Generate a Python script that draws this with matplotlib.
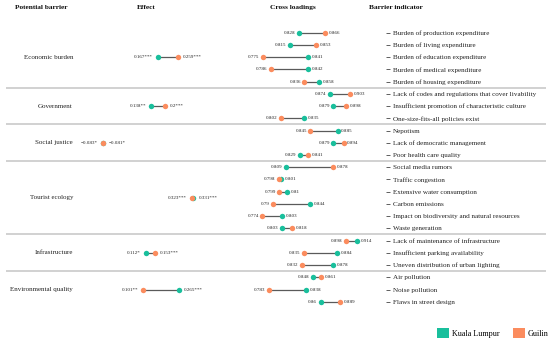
import matplotlib
matplotlib.use("Agg")
import matplotlib.pyplot as plt
from matplotlib.patches import Patch
import numpy as np

plt.rcParams['font.family'] = ['Liberation Serif', 'DejaVu Serif']

# ---------------- data ----------------
barriers = ["Economic burden", "Government", "Social justice",
            "Tourist ecology", "Infrastructure", "Environmental quality"]
group_sizes = [5, 3, 3, 6, 3, 3]
effect_kl = [0.167, 0.138, -0.083, 0.331, 0.112, 0.265]
effect_gl = [0.259, 0.2, -0.081, 0.323, 0.153, 0.101]
effect_kl_sig = ["***", "**", "*", "***", "*", "***"]
effect_gl_sig = ["***", "***", "*", "***", "***", "**"]

indicators = [
    "Burden of production expenditure",
    "Burden of living expenditure",
    "Burden of education expenditure",
    "Burden of medical expenditure",
    "Burden of housing expenditure",
    "Lack of codes and regulations that cover livability",
    "Insufficient promotion of characteristic culture",
    "One-size-fits-all policies exist",
    "Nepotism",
    "Lack of democratic management",
    "Poor health care quality",
    "Social media rumors",
    "Traffic congestion",
    "Extensive water consumption",
    "Carbon emissions",
    "Impact on biodiversity and natural resources",
    "Waste generation",
    "Lack of maintenance of infrastructure",
    "Insufficient parking availability",
    "Uneven distribution of urban lighting",
    "Air pollution",
    "Noise pollution",
    "Flaws in street design",
]
load_kl = [0.828, 0.815, 0.841, 0.842, 0.858,
           0.874, 0.879, 0.835,
           0.885, 0.879, 0.829,
           0.809, 0.801, 0.81, 0.844, 0.803, 0.803,
           0.914, 0.884, 0.878,
           0.848, 0.838, 0.86]
load_gl = [0.866, 0.853, 0.775, 0.786, 0.836,
           0.903, 0.898, 0.802,
           0.845, 0.894, 0.841,
           0.878, 0.798, 0.799, 0.79, 0.774, 0.818,
           0.898, 0.835, 0.832,
           0.861, 0.783, 0.889]

series_names = ["Kuala Lumpur", "Guilin"]
headers = ["Potential barrier", "Effect", "Cross loadings", "Barrier indicator"]

# ---------------- style ----------------
TEAL = "#19BF9C"
ORANGE = "#FB8C5E"
SEG = "#5a5a5a"
SEP = "#c9c9c9"
TXT = "#222222"

W, H = 550, 342
fig = plt.figure(figsize=(W / 100, H / 100), dpi=100)

# row geometry: row 0 at 32.7 px from top, 12.23 px per row
ROW0, STEP = 32.7, 12.23
YLIM = ((H - ROW0) / STEP, -ROW0 / STEP)

starts = np.concatenate([[0], np.cumsum(group_sizes)[:-1]])
mid_rows = starts + (np.array(group_sizes) - 1) / 2.0
sep_rows = np.cumsum(group_sizes)[:-1] - 0.5


def fmt(v, sig=""):
    return (f"{v:g}" + sig).replace("-", "\u2212")


def draw_pairs(ax, ys, a, b, la, lb, off, fs, ms):
    for y, va, vb, ta, tb in zip(ys, a, b, la, lb):
        ax.plot([va, vb], [y, y], color=SEG, lw=0.9, zorder=1,
                solid_capstyle="butt", clip_on=False)
        ax.plot(va, y, "o", color=TEAL, ms=ms, mec="none", zorder=2, clip_on=False)
        ax.plot(vb, y, "o", color=ORANGE, ms=ms, mec="none", zorder=3, clip_on=False)
        if va <= vb:
            left, right = (va, ta), (vb, tb)
        else:
            left, right = (vb, tb), (va, ta)
        ax.annotate(left[1], (left[0], y), xytext=(-off, 0), textcoords="offset points",
                    ha="right", va="center", fontsize=fs, color=TXT)
        ax.annotate(right[1], (right[0], y), xytext=(off, 0), textcoords="offset points",
                    ha="left", va="center", fontsize=fs, color=TXT)


# ---------------- base layout axes ----------------
base = fig.add_axes([0, 0, 1, 1])
base.set_xlim(0, W)
base.set_ylim(*YLIM)
base.axis("off")

header_x = [15, 137, 270.5, 369]
for hx, ht in zip(header_x, headers):
    base.text(hx, (7.3 - ROW0) / STEP, ht, ha="left", va="center",
              fontsize=5.3, fontweight="bold", color="#111111")

for yr, name in zip(mid_rows, barriers):
    base.text(73, yr, name, ha="right", va="center", fontsize=5.0, color=TXT)

base.hlines(sep_rows, 6, 546, color=SEP, lw=1.2)

handles = [Patch(facecolor=TEAL, edgecolor="none"),
           Patch(facecolor=ORANGE, edgecolor="none")]
base.legend(handles, series_names, ncol=2, loc="lower right",
            bbox_to_anchor=(549 / W, 4 / H), bbox_transform=fig.transFigure,
            frameon=False, fontsize=5.9, handlelength=1.45, handleheight=1.45,
            handletextpad=0.4, columnspacing=1.6, borderpad=0, borderaxespad=0)

# ---------------- effect axes ----------------
E0, ES = 121.1, 218.4   # px = E0 + ES * value
eff_l, eff_r = 80, 240
eax = fig.add_axes([eff_l / W, 0, (eff_r - eff_l) / W, 1])
eax.set_xlim((eff_l - E0) / ES, (eff_r - E0) / ES)
eax.set_ylim(*YLIM)
eax.axis("off")
draw_pairs(eax, mid_rows, effect_kl, effect_gl,
           [fmt(v, s) for v, s in zip(effect_kl, effect_kl_sig)],
           [fmt(v, s) for v, s in zip(effect_gl, effect_gl_sig)],
           off=3.6, fs=3.6, ms=3.9)

# ---------------- cross loading axes ----------------
C0, CS, CV = 299.0, 676.0, 0.828   # px = C0 + CS * (v - CV)
cl_l, cl_r = 250, 386
cax = fig.add_axes([cl_l / W, 0, (cl_r - cl_l) / W, 1])
cax.set_xlim(CV + (cl_l - C0) / CS, CV + (cl_r - C0) / CS)
cax.set_ylim(*YLIM)
cax.patch.set_visible(False)
for s in cax.spines.values():
    s.set_visible(False)
cax.set_xticks([])
rows = np.arange(len(indicators))
cax.set_yticks(rows)
cax.set_yticklabels(indicators)
cax.tick_params(axis="y", left=False, labelleft=False, right=True, labelright=True,
                length=2.9, width=0.6, color="#444444", pad=2.3,
                labelsize=5.1, labelcolor=TXT)
draw_pairs(cax, rows, load_kl, load_gl,
           [fmt(v) for v in load_kl], [fmt(v) for v in load_gl],
           off=2.6, fs=3.6, ms=3.9)

fig.savefig("out.png", dpi=100)
